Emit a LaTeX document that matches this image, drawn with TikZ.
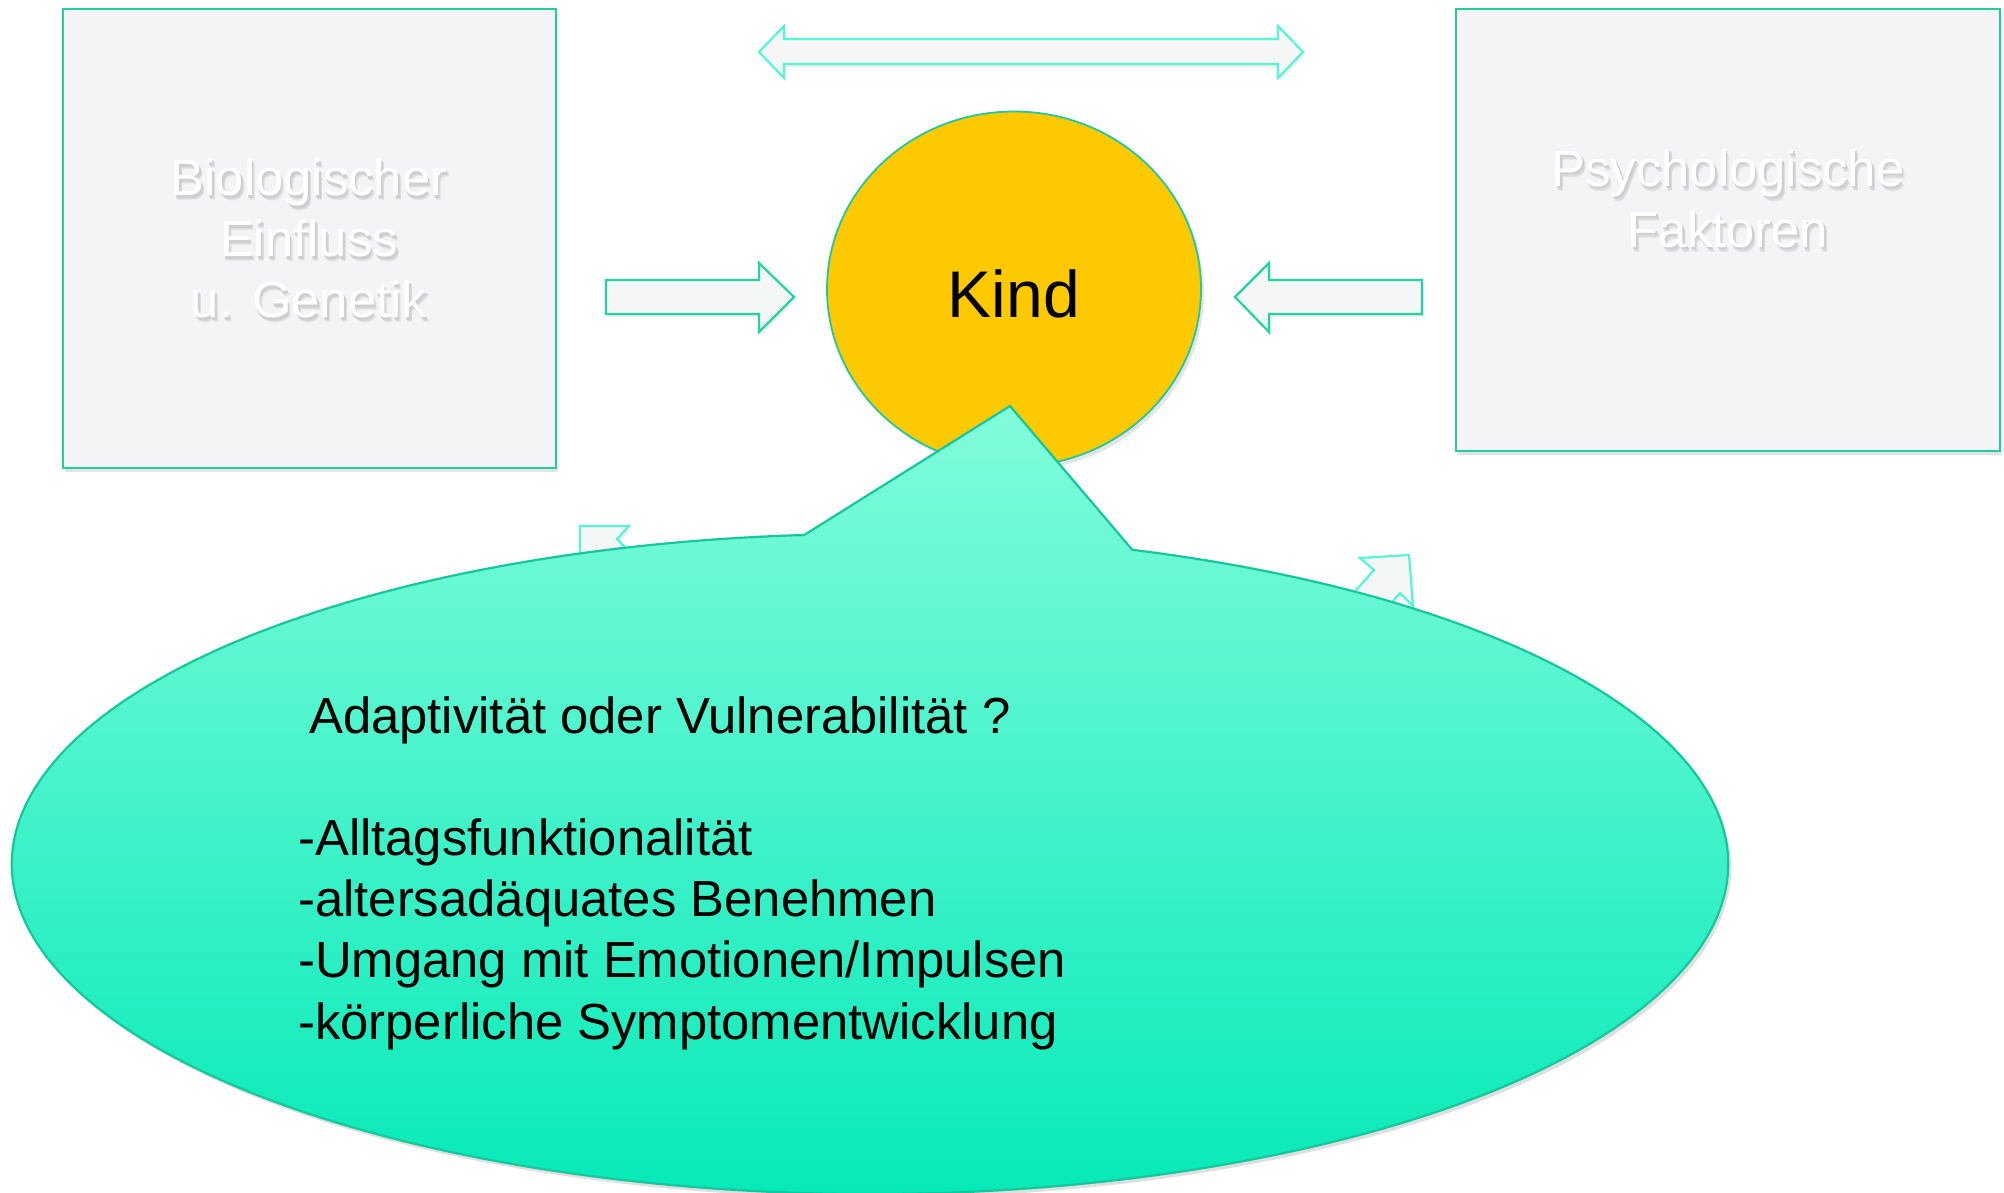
\documentclass[tikz,border=0pt]{standalone}
\usepackage{fontspec}
\setmainfont{Liberation Sans}
\usetikzlibrary{shapes.geometric,shadows,calc}
\definecolor{boxfill}{HTML}{F4F4F6}
\definecolor{boxline}{HTML}{1FCF9F}
\definecolor{arrline}{HTML}{22D3A3}
\definecolor{arrlight}{HTML}{55F5D5}
\definecolor{arrfill}{HTML}{F5F7F7}
\definecolor{kindfill}{HTML}{FDC900}
\definecolor{kindline}{HTML}{22C8A0}
\definecolor{calltop}{HTML}{82FCDC}
\definecolor{callbot}{HTML}{00E9B6}
\definecolor{callline}{HTML}{14C79C}
\newcommand{\ghostline}[1]{%
  \makebox[0pt][l]{\kern3pt\raisebox{-5pt}{\color{black!9}#1}}%
  \makebox[0pt][l]{\kern2.5pt\raisebox{-4pt}{\color{black!14}#1}}%
  \makebox[0pt][l]{\kern1.5pt\raisebox{-2.5pt}{\color{black!19}#1}}%
  {\color{white}#1}}
\begin{document}
\begin{tikzpicture}[x=1pt,y=-1pt,
  factorbox/.style={draw=boxline, line width=2.6pt, fill=boxfill, inner sep=0pt,
    drop shadow={opacity=0.22, shadow xshift=2pt, shadow yshift=-4pt}},
  ghost/.style={align=center, font=\fontsize{50.8}{61}\selectfont},
  blockarrow/.style={draw=arrline, line width=2.2pt, fill=arrfill, line join=miter,
    drop shadow={opacity=0.15, shadow xshift=2pt, shadow yshift=-3pt}},
  lightarrow/.style={draw=arrlight, line width=2.2pt, fill=arrfill, line join=miter,
    drop shadow={opacity=0.15, shadow xshift=2pt, shadow yshift=-3pt}},
  kindstyle/.style={ellipse, draw=kindline, line width=1.8pt, fill=kindfill, inner sep=0pt,
    minimum width=374pt, minimum height=355pt, font=\fontsize{66}{79}\selectfont,
    drop shadow={opacity=0.2, shadow xshift=3pt, shadow yshift=-4pt}},
  callstyle/.style={draw=callline, line width=2.2pt, top color=calltop, bottom color=callbot,
    drop shadow={opacity=0.25, shadow xshift=3pt, shadow yshift=-4pt}},
  calltext/.style={align=left, anchor=base west, inner sep=0pt, font=\fontsize{50.8}{61.2}\selectfont}
]
\useasboundingbox (0,0) rectangle (2004,1192);
\fill[white] (0,0) rectangle (2004,1192);

% factor boxes
\node[factorbox, minimum width=493pt, minimum height=459pt] (bio) at (309.5,238.5) {};
\node[factorbox, minimum width=544pt, minimum height=442pt] (psy) at (1728,230) {};
\node[ghost] (biolabel) at (309,241) {\ghostline{Biologischer}\\\ghostline{Einfluss}\\\ghostline{u. Genetik}};
\node[ghost] (psylabel) at (1728,201) {\ghostline{Psychologische}\\\ghostline{Faktoren}};

% top double arrow
\coordinate (dl) at (759,52);
\coordinate (dr) at (1303,52);
\draw[lightarrow] (dl) -- (784,26) -- (784,39) -- (1278,39) -- (1278,26) -- (dr)
  -- (1278,78) -- (1278,64) -- (784,64) -- (784,78) -- cycle;

% horizontal arrows toward Kind
\coordinate (ltail) at (606,297);
\coordinate (ltip) at (794,297);
\draw[blockarrow] (ltail) ++(0,-17) -- (759,280) -- (759,263) -- (ltip) -- (759,332) -- (759,314) -- (606,314) -- cycle;
\coordinate (rtail) at (1422,297);
\coordinate (rtip) at (1235,297);
\draw[blockarrow] (rtail) ++(0,-17) -- (1269,280) -- (1269,263) -- (rtip) -- (1269,332) -- (1269,314) -- (1422,314) -- cycle;

% partly hidden arrows behind the callout
\coordinate (nwtip) at (580,526);
\draw[lightarrow] (nwtip) -- (629,526) -- (617,539) -- (677,599) -- (653,623) -- (593,563) -- (580,575) -- cycle;
\coordinate (netip) at (1409,555);
\draw[lightarrow] (netip) -- (1413,606) -- (1400,593) -- (1360,638) -- (1334,615) -- (1374,570) -- (1360,558) -- cycle;

% Kind
\node[kindstyle] (kind) at (1014,289) {\raisebox{-28.6pt}[0pt][0pt]{Kind}};

% callout
\coordinate (cc) at (870,864);
\coordinate (ctip) at (1010,406);
\path[callstyle] (ctip) -- ($(cc)+(-72.2:858 and 330)$)
  arc[start angle=-72.2, end angle=265.6, x radius=858, y radius=330] -- cycle;

\node[calltext] (calltxt) at (298,1039) {\hspace*{11pt}Adaptivität oder Vulnerabilität ?\\[61.2pt]
-Alltagsfunktionalität\\
-altersadäquates Benehmen\\
-Umgang mit Emotionen/Impulsen\\
-körperliche Symptomentwicklung};
\end{tikzpicture}
\end{document}
